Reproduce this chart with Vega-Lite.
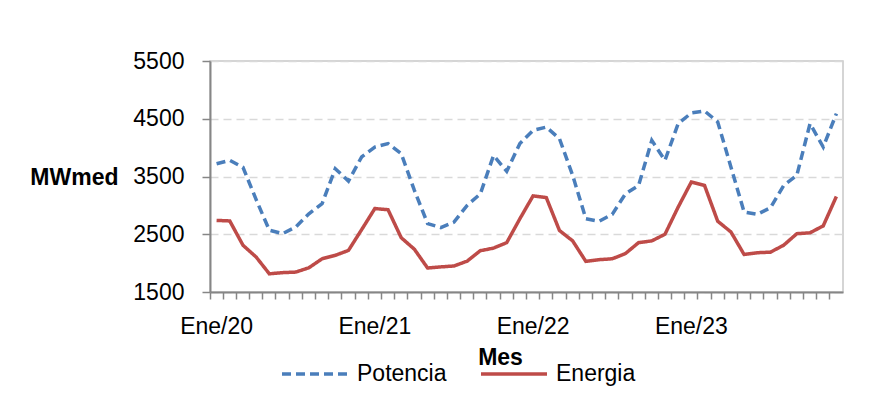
{
  "$schema": "https://vega.github.io/schema/vega-lite/v6.json",
  "width": 633,
  "height": 231,
  "autosize": "none",
  "padding": {"left": 210, "top": 61, "right": 39, "bottom": 115},
  "background": "white",
  "config": {
    "font": "Liberation Sans",
    "view": {"stroke": "#c8c8c8", "strokeWidth": 1.5}
  },
  "data": {
    "values": [
      {"mes": "Ene/20", "Potencia": 3720, "Energia": 2740},
      {"mes": "Feb/20", "Potencia": 3780, "Energia": 2730},
      {"mes": "Mar/20", "Potencia": 3660, "Energia": 2310},
      {"mes": "Abr/20", "Potencia": 3100, "Energia": 2105},
      {"mes": "May/20", "Potencia": 2570, "Energia": 1815},
      {"mes": "Jun/20", "Potencia": 2510, "Energia": 1835},
      {"mes": "Jul/20", "Potencia": 2625, "Energia": 1845},
      {"mes": "Ago/20", "Potencia": 2855, "Energia": 1920},
      {"mes": "Sep/20", "Potencia": 3030, "Energia": 2075},
      {"mes": "Oct/20", "Potencia": 3635, "Energia": 2135},
      {"mes": "Nov/20", "Potencia": 3420, "Energia": 2220},
      {"mes": "Dic/20", "Potencia": 3840, "Energia": 2580},
      {"mes": "Ene/21", "Potencia": 4010, "Energia": 2945},
      {"mes": "Feb/21", "Potencia": 4070, "Energia": 2925},
      {"mes": "Mar/21", "Potencia": 3895, "Energia": 2440},
      {"mes": "Abr/21", "Potencia": 3260, "Energia": 2240},
      {"mes": "May/21", "Potencia": 2685, "Energia": 1915},
      {"mes": "Jun/21", "Potencia": 2615, "Energia": 1935},
      {"mes": "Jul/21", "Potencia": 2710, "Energia": 1950},
      {"mes": "Ago/21", "Potencia": 3000, "Energia": 2035},
      {"mes": "Sep/21", "Potencia": 3200, "Energia": 2215},
      {"mes": "Oct/21", "Potencia": 3865, "Energia": 2260},
      {"mes": "Nov/21", "Potencia": 3590, "Energia": 2355},
      {"mes": "Dic/21", "Potencia": 4070, "Energia": 2770},
      {"mes": "Ene/22", "Potencia": 4300, "Energia": 3165},
      {"mes": "Feb/22", "Potencia": 4355, "Energia": 3135},
      {"mes": "Mar/22", "Potencia": 4155, "Energia": 2565},
      {"mes": "Abr/22", "Potencia": 3520, "Energia": 2385},
      {"mes": "May/22", "Potencia": 2770, "Energia": 2030},
      {"mes": "Jun/22", "Potencia": 2725, "Energia": 2060},
      {"mes": "Jul/22", "Potencia": 2845, "Energia": 2075},
      {"mes": "Ago/22", "Potencia": 3200, "Energia": 2165},
      {"mes": "Sep/22", "Potencia": 3345, "Energia": 2355},
      {"mes": "Oct/22", "Potencia": 4125, "Energia": 2385},
      {"mes": "Nov/22", "Potencia": 3780, "Energia": 2500},
      {"mes": "Dic/22", "Potencia": 4415, "Energia": 2970},
      {"mes": "Ene/23", "Potencia": 4600, "Energia": 3405},
      {"mes": "Feb/23", "Potencia": 4635, "Energia": 3345},
      {"mes": "Mar/23", "Potencia": 4445, "Energia": 2725},
      {"mes": "Abr/23", "Potencia": 3665, "Energia": 2540},
      {"mes": "May/23", "Potencia": 2885, "Energia": 2150},
      {"mes": "Jun/23", "Potencia": 2845, "Energia": 2180},
      {"mes": "Jul/23", "Potencia": 2960, "Energia": 2190},
      {"mes": "Ago/23", "Potencia": 3345, "Energia": 2310},
      {"mes": "Sep/23", "Potencia": 3520, "Energia": 2510},
      {"mes": "Oct/23", "Potencia": 4415, "Energia": 2525},
      {"mes": "Nov/23", "Potencia": 4010, "Energia": 2645},
      {"mes": "Dic/23", "Potencia": 4590, "Energia": 3155}
    ]
  },
  "transform": [
    {"fold": ["Potencia", "Energia"], "as": ["serie", "valor"]}
  ],
  "mark": {"type": "line", "strokeWidth": 3.5},
  "encoding": {
    "x": {
      "field": "mes",
      "type": "ordinal",
      "sort": null,
      "scale": {"type": "band", "paddingInner": 0, "paddingOuter": 0},
      "axis": {
        "bandPosition": 0,
        "labelAngle": 0,
        "labelExpr": "indexof(datum.value, 'Ene') == 0 ? datum.value : ''",
        "labelFontSize": 23,
        "labelColor": "#000000",
        "labelPadding": 16,
        "labelBaseline": "top",
        "labelOverlap": false,
        "domainColor": "#868686",
        "domainWidth": 2,
        "tickColor": "#868686",
        "tickWidth": 1.5,
        "tickSize": 7,
        "grid": false,
        "title": "Mes",
        "titleFontSize": 23,
        "titleFontWeight": "bold",
        "titleColor": "#000000",
        "titleX": 290,
        "titleY": 54,
        "titleBaseline": "top",
        "titleAlign": "center"
      }
    },
    "y": {
      "field": "valor",
      "type": "quantitative",
      "scale": {"domain": [1500, 5500], "nice": false, "zero": false},
      "axis": {
        "values": [1500, 2500, 3500, 4500, 5500],
        "format": "d",
        "labelFontSize": 23,
        "labelColor": "#000000",
        "labelPadding": 18,
        "domainColor": "#868686",
        "domainWidth": 2,
        "tickColor": "#868686",
        "tickWidth": 1.5,
        "tickSize": 8,
        "grid": true,
        "gridColor": "#d9d9d9",
        "gridWidth": 1.5,
        "gridDash": [8, 5],
        "title": "MWmed",
        "titleAngle": 0,
        "titleFontSize": 23,
        "titleFontWeight": "bold",
        "titleColor": "#000000",
        "titleAlign": "right",
        "titleBaseline": "middle",
        "titleX": -92,
        "titleY": 116
      }
    },
    "color": {
      "field": "serie",
      "type": "nominal",
      "scale": {"domain": ["Potencia", "Energia"], "range": ["#4a7ebb", "#be4b48"]},
      "legend": {
        "title": null,
        "orient": "none",
        "direction": "horizontal",
        "legendX": 70,
        "legendY": 278,
        "padding": 0,
        "symbolType": "stroke",
        "symbolSize": 4356,
        "symbolStrokeWidth": 3.5,
        "labelFontSize": 23,
        "labelColor": "#000000",
        "labelOffset": 7,
        "columnPadding": 27
      }
    },
    "strokeDash": {
      "field": "serie",
      "type": "nominal",
      "scale": {"domain": ["Potencia", "Energia"], "range": [[9, 5], [1, 0]]},
      "legend": {
        "title": null,
        "orient": "none",
        "direction": "horizontal",
        "legendX": 70,
        "legendY": 278,
        "padding": 0,
        "symbolType": "stroke",
        "symbolSize": 4356,
        "symbolStrokeWidth": 3.5,
        "labelFontSize": 23,
        "labelColor": "#000000",
        "labelOffset": 7,
        "columnPadding": 27
      }
    }
  }
}
